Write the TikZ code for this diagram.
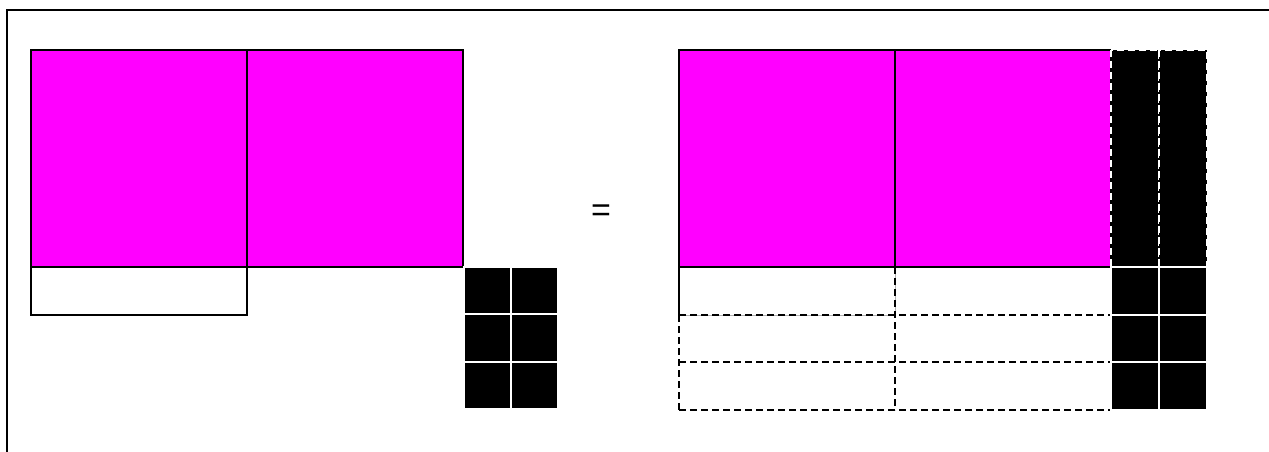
\documentclass[tikz,border=0pt]{standalone}
\usepackage{fontspec}
\setmainfont{Liberation Sans}
\definecolor{tilemag}{RGB}{255,0,255}
\begin{document}
\begin{tikzpicture}[x=1pt,y=-1pt,
  sqtile/.style={fill=tilemag,draw=black,line width=1.5pt},
  xtile/.style={fill=white,draw=black,line width=1.3pt},
  faintedge/.style={draw=black!30,line width=0.8pt},
  dashline/.style={draw=black,line width=1.6pt,dash pattern=on 7pt off 4pt},
  unittile/.style={fill=black,draw=white,line width=2pt},
  striptile/.style={fill=black,draw=white,line width=1.5pt,dash pattern=on 7pt off 4pt},
  frame/.style={draw=black,line width=2pt}]
\useasboundingbox (0,0) rectangle (1269,452);
\clip (0,0) rectangle (1269,452);
\fill[white] (0,0) rectangle (1269,452);
\draw[frame] (7,10) rectangle (1290,470);
% left side
\draw[sqtile] (31,50) rectangle (247,267);
\draw[sqtile] (247,50) rectangle (463,267);
\draw[xtile] (31,267) rectangle (247,315);
\foreach \r in {0,1,2}{
  \foreach \c in {0,1}{
    \draw[unittile] (464+47*\c,267+47.3*\r) rectangle (464+47*\c+47,267+47.3*\r+47.3);
  }
}
% equals
\node[font=\fontsize{34}{36}\selectfont,inner sep=0pt] (eq) at (601,213) {=};
% right side
\draw[sqtile] (679,50) rectangle (895,267);
\draw[sqtile] (895,50) rectangle (1111,267);
\draw[striptile] (1111,50) rectangle (1159,267);
\draw[striptile] (1159,50) rectangle (1207,267);
\draw[faintedge] (679,267) rectangle (895,315);
\draw[dashline] (895,267) -- (895,410);
\draw[dashline] (679,315) -- (679,410);
\draw[dashline] (679,315) -- (1111,315);
\draw[dashline] (679,362) -- (1111,362);
\draw[dashline] (679,410) -- (1111,410);
\draw[xtile,fill=none] (679,315) -- (679,267);
\draw[sqtile,fill=none] (679,50) -- (679,267) -- (1111,267);
\foreach \r in {0,1,2}{
  \foreach \c in {0,1}{
    \draw[unittile] (1111+48*\c,267+47.7*\r) rectangle (1111+48*\c+48,267+47.7*\r+47.7);
  }
}
\end{tikzpicture}
\end{document}
